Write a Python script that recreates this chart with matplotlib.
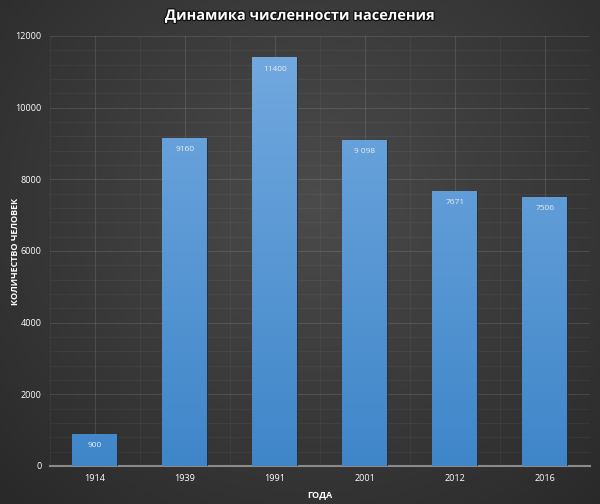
import numpy as np
import matplotlib
matplotlib.use("Agg")
import matplotlib.pyplot as plt
from matplotlib import ticker
from matplotlib.colors import LinearSegmentedColormap
import matplotlib.patheffects as pe

years = ["1914", "1939", "1991", "2001", "2012", "2016"]
population = [900, 9160, 11400, 9098, 7671, 7506]
bar_labels = ["900", "9160", "11400", "9 098", "7671", "7506"]

title = "Динамика численности населения"
ylabel = "КОЛИЧЕСТВО ЧЕЛОВЕК"
xlabel = "ГОДА"

plt.rcParams["font.family"] = ["Open Sans", "DejaVu Sans"]

fig = plt.figure(figsize=(6.0, 5.04), dpi=100)

# radial dark background
bg = fig.add_axes([0, 0, 1, 1], zorder=-10)
yy, xx = np.mgrid[0:504, 0:600]
r = np.sqrt(((xx - 310) / 430.0) ** 2 + ((yy - 200) / 400.0) ** 2)
shade = np.clip(0.295 - 0.13 * r, 0.16, 0.295)
bg.imshow(np.dstack([shade] * 3), aspect="auto", extent=[0, 1, 0, 1])
bg.set_axis_off()

ax = fig.add_axes([0.083, 0.0754, 0.9, 0.8532])
ax.set_facecolor("none")

x = np.arange(len(years))
bars = ax.bar(x, population, width=0.5, color="#4a90d0", edgecolor="#262626",
              linewidth=0.6, zorder=3)

cmap = LinearSegmentedColormap.from_list("blu", ["#3f86c9", "#74aae0"])
grad = np.linspace(0, 1, 256).reshape(-1, 1)
for b in bars:
    im = ax.imshow(grad, cmap=cmap, origin="lower", aspect="auto",
                   extent=[-0.5, len(years) - 0.5, 0, 12000], zorder=3.5)
    im.set_clip_path(b)

for xi, v, lab in zip(x, population, bar_labels):
    ax.text(xi, v - 330, lab, ha="center", va="center", color="#e8eef5",
            fontsize=6, zorder=5)

ax.set_xlim(-0.5, len(years) - 0.5)
ax.set_ylim(0, 12000)
ax.set_xticks(x)
ax.set_xticklabels(years)
ax.yaxis.set_major_locator(ticker.MultipleLocator(2000))
ax.yaxis.set_minor_locator(ticker.MultipleLocator(400))
ax.xaxis.set_minor_locator(ticker.FixedLocator(np.arange(-0.5, len(years), 1)))
ax.grid(which="major", color="white", alpha=0.11, linewidth=0.8, zorder=0)
ax.grid(which="minor", color="white", alpha=0.05, linewidth=0.6, zorder=0)
ax.set_axisbelow(True)

for s in ("top", "right", "left"):
    ax.spines[s].set_visible(False)
ax.spines["bottom"].set_color("#8a8a8a")
ax.spines["bottom"].set_linewidth(1.5)
ax.tick_params(which="both", length=0, colors="white", labelsize=6.5)
ax.tick_params(axis="x", pad=6)
ax.tick_params(axis="y", pad=6)

ax.set_ylabel(ylabel, color="white", fontsize=6.5, fontweight="bold")
ax.yaxis.set_label_coords(-0.055, 0.5)
ax.set_xlabel(xlabel, color="white", fontsize=6.5, fontweight="bold")
ax.xaxis.set_label_coords(0.5, -0.055)
fig.text(0.5, 0.968, title, ha="center", va="center", color="white",
         fontsize=10.5, fontweight="bold",
         path_effects=[pe.withStroke(linewidth=1.8, foreground="#111111")])

fig.savefig("out.png", dpi=100)
